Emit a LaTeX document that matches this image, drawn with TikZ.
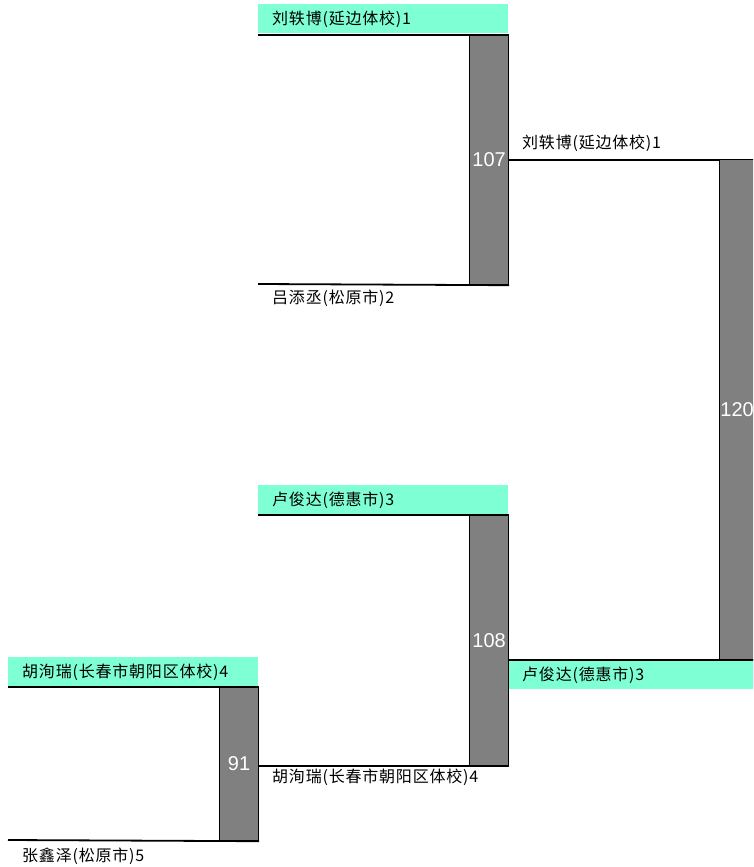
\documentclass[tikz,border=0pt]{standalone}
\usepackage{fontspec}
\setmainfont{Noto Sans CJK SC}[LetterSpace=5]
\newfontfamily\numfont{Liberation Sans}
\usetikzlibrary{positioning}
\definecolor{winner}{HTML}{7FFFD4}
\definecolor{bargray}{HTML}{808080}

\begin{document}
\begin{tikzpicture}[x=1pt,y=-1pt,
  player/.style={anchor=west,inner sep=0pt,font=\fontsize{16}{16}\selectfont},
  score/.style={draw=black,line width=1.2pt,fill=bargray,anchor=north west,
    minimum width=39pt,inner sep=0pt,text=white,font=\numfont\fontsize{20}{20}\selectfont},
  wire/.style={line width=1.8pt}]
\useasboundingbox (0,0) rectangle (753,867);
\clip (0,0) rectangle (753,867);
% Highlight the winners
\fill[winner] (258,4) rectangle (508,33);
\fill[winner] (258,485) rectangle (508,514);
\fill[winner] (8,657) rectangle (258,686);
\fill[winner] (508,660) rectangle (760,689);
% Score bars
\node[score,minimum height=249pt] (m107) at (469,35) {107};
\node[score,minimum height=250pt] (m108) at (469,515) {108};
\node[score,minimum height=153pt] (m91) at (219,687) {91};
\node[score,minimum height=500pt,minimum width=35pt] (m120) at (719,159) {120};
% Start points of the first lines
\coordinate (s1) at (258,35);
\coordinate (s2) at (258,284);
\coordinate (s3) at (258,515);
\coordinate (s4) at (8,687);
\coordinate (s5) at (8,840);
% Bracket lines
\draw[wire] (s1) -- (m107.north east);
\draw[wire] (s2) -- (m107.south east);
\draw[wire] (s3) -- (m108.north east);
\draw[wire] (s4) -- (m91.north east);
\draw[wire] (s5) -- (m91.south east);
\draw[wire] (m91.east |- m108.south) -- (m108.south east);
\draw[wire] (m107.east) -- (m107.east -| m120.west);
\draw[wire] (m120.south -| m108.east) -- (m120.south east);
% Player names
\node[player] (p1) at (272,19) {刘轶博(延边体校)1};
\node[player] (p2) at (272,298) {吕添丞(松原市)2};
\node[player] (p3) at (272,500) {卢俊达(德惠市)3};
\node[player] (p4) at (272,777) {胡洵瑞(长春市朝阳区体校)4};
\node[player] (q4) at (22,672) {胡洵瑞(长春市朝阳区体校)4};
\node[player] (q5) at (22,856) {张鑫泽(松原市)5};
\node[player] (w1) at (522,143) {刘轶博(延边体校)1};
\node[player] (w3) at (522,675) {卢俊达(德惠市)3};
\end{tikzpicture}
\end{document}
